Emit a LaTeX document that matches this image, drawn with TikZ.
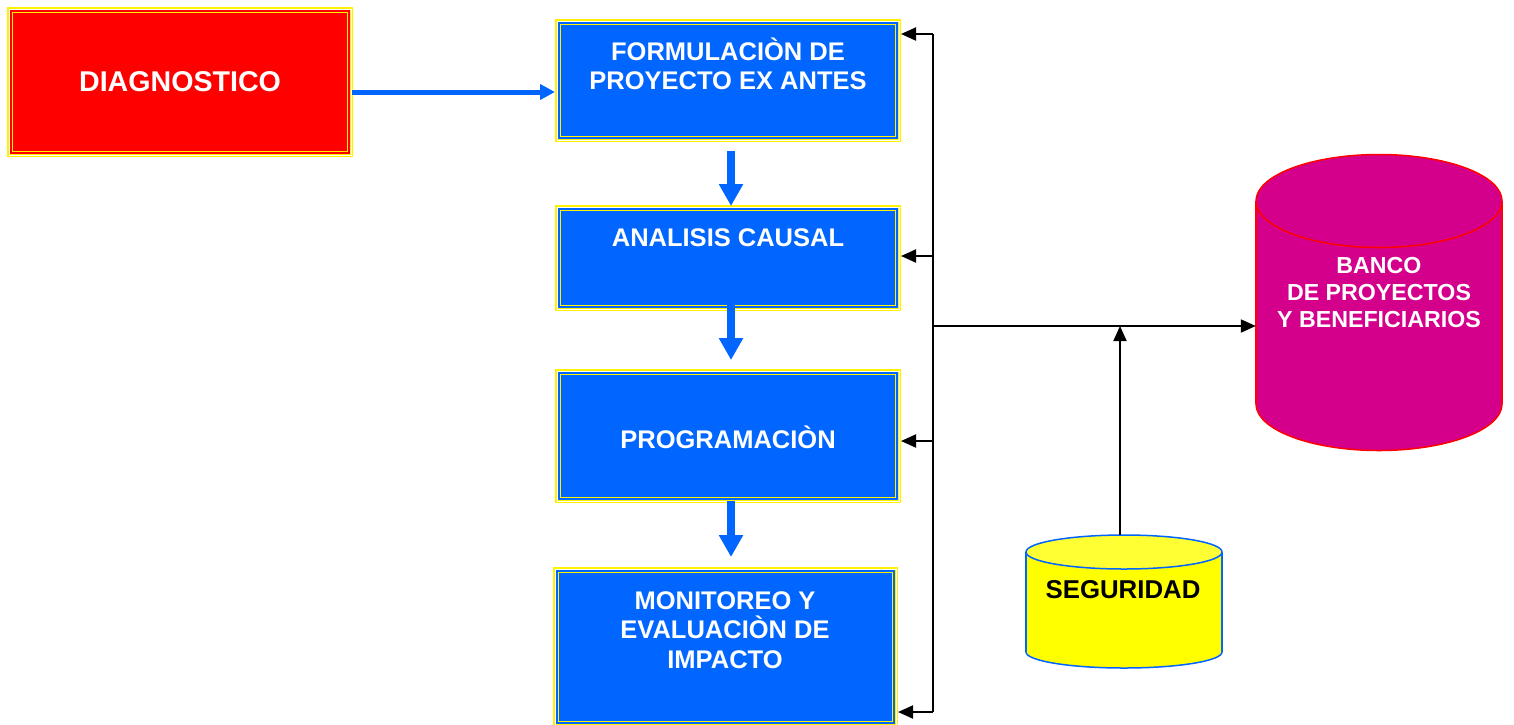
\documentclass[tikz,border=0pt]{standalone}
\usepackage{fontspec}
\setmainfont{Liberation Sans}
\usetikzlibrary{arrows.meta}
\definecolor{bxblue}{HTML}{0066FF}
\definecolor{bxmag}{RGB}{212,0,140}
\definecolor{cylyel}{HTML}{FFFF00}
\definecolor{cyltop}{HTML}{FFFF33}
\tikzset{
  procbox/.style={draw=yellow, line width=3pt, inner sep=0pt, rectangle},
  gapline/.style={draw=white, line width=1pt},
  innerline/.style={draw=yellow, line width=1.8pt},
  boxtext/.style={text=white, font=\bfseries\fontsize{25.5}{29.5}\selectfont, align=center, inner sep=0pt},
  bigarrow/.style={draw=bxblue, line width=8pt, -{Triangle[length=22pt,width=23pt]}},
  medarrow/.style={draw=bxblue, line width=5pt, -{Triangle[length=15pt,width=15pt]}},
  bus/.style={draw=black, line width=2pt},
  busarrow/.style={draw=black, line width=2pt, -{Triangle[length=15pt,width=13pt]}},
  anchorbox/.style={draw=none, inner sep=0pt, rectangle}
}
\begin{document}
\begin{tikzpicture}[x=1pt,y=-1pt]
\useasboundingbox (0,0) rectangle (1514,724);
\fill[white] (0,0) rectangle (1514,724);

% ---------- process boxes ----------
\node[procbox, fill=red, minimum width=343pt, minimum height=147pt] (diag) at (180,82) {};
\node[procbox, fill=bxblue, minimum width=343pt, minimum height=120pt] (form) at (728,80.5) {};
\node[procbox, fill=bxblue, minimum width=343pt, minimum height=103pt] (anal) at (728,258) {};
\node[procbox, fill=bxblue, minimum width=343pt, minimum height=131pt] (prog) at (728,436) {};
\node[procbox, fill=bxblue, minimum width=342pt, minimum height=157pt] (mon) at (725.5,647) {};

\foreach \n in {diag,form,anal,prog,mon}{
  \draw[gapline] ([shift={(2,2)}]\n.north west) rectangle ([shift={(-2,-2)}]\n.south east);
  \draw[innerline] ([shift={(5.5,5.5)}]\n.north west) rectangle ([shift={(-5.5,-5.5)}]\n.south east);
}

\node[boxtext, font=\bfseries\fontsize{28.6}{34}\selectfont] (diagt) at (180,82) {DIAGNOSTICO};
\node[boxtext] (formt) at (728,64) {FORMULACIÒN DE\\PROYECTO EX ANTES};
\node[boxtext] (analt) at (728,238) {ANALISIS CAUSAL};
\node[boxtext] (progt) at (728,437) {PROGRAMACIÒN};
\node[boxtext] (mont) at (725,630) {MONITOREO Y\\EVALUACIÒN DE\\IMPACTO};

% ---------- cylinders ----------
% BANCO
\draw[fill=bxmag, draw=red, line width=1.5pt] (1379,404) ellipse [x radius=123, y radius=46.5];
\fill[bxmag] (1256,201) rectangle (1502,404);
\draw[red, line width=1.5pt] (1256,201) -- (1256,404) (1502,201) -- (1502,404);
\draw[fill=bxmag, draw=red, line width=1.5pt] (1379,201) ellipse [x radius=123, y radius=46.5];
\node[anchorbox, minimum width=246pt, minimum height=295pt] (banco) at (1379,302.5) {};
\node[boxtext, font=\bfseries\fontsize{23.2}{27}\selectfont] (bancot) at (1379,293) {BANCO\\DE PROYECTOS\\Y BENEFICIARIOS};

% SEGURIDAD
\draw[fill=cylyel, draw=bxblue, line width=1.5pt] (1124,652) ellipse [x radius=98, y radius=16];
\fill[cylyel] (1026,552) rectangle (1222,652);
\draw[bxblue, line width=1.5pt] (1026,552) -- (1026,652) (1222,552) -- (1222,652);
\draw[fill=cyltop, draw=bxblue, line width=1.5pt] (1124,552) ellipse [x radius=98, y radius=17];
\node[anchorbox, minimum width=196pt, minimum height=133pt] (seg) at (1124,601.5) {};
\node[boxtext, text=black, font=\bfseries\fontsize{25.8}{30}\selectfont] (segt) at (1123,590) {SEGURIDAD};

% ---------- blue flow arrows ----------
\coordinate (d1) at (352,92);
\draw[medarrow] (d1) -- (d1 -| form.west);
\coordinate (a1) at ([shift={(3,9)}]form.south);
\draw[bigarrow] (a1) -- ([yshift=-1pt]a1 |- anal.north);
\coordinate (a2) at ([shift={(3,-6)}]anal.south);
\draw[bigarrow] (a2) -- ([yshift=9pt]a2 |- prog.north);
\coordinate (a3) at ([shift={(3,-2)}]prog.south);
\draw[bigarrow] (a3) -- ([yshift=10pt]a3 |- mon.north);

% ---------- black feedback bus ----------
\coordinate (b1) at (933,34);
\coordinate (b2) at (933,256);
\coordinate (bm) at (933,326);
\coordinate (b3) at (933,441);
\coordinate (b4) at (933,712);
\draw[bus] (b1) -- (b4);
\draw[busarrow] (b1) -- (b1 -| form.east);
\draw[busarrow] (b2) -- (b2 -| anal.east);
\draw[busarrow] (b3) -- (b3 -| prog.east);
\draw[busarrow] (b4) -- (b4 -| mon.east);
\draw[busarrow] (bm) -- (bm -| banco.west);
\coordinate (s1) at ([xshift=-4pt]seg.north);
\draw[busarrow] (s1) -- (s1 |- bm);
\end{tikzpicture}
\end{document}
